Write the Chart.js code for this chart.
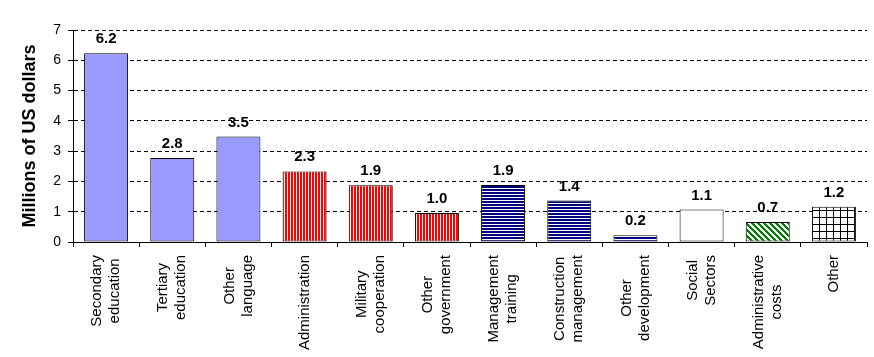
<!DOCTYPE html>
<html><head><meta charset="utf-8">
<script src="https://cdn.jsdelivr.net/npm/chart.js@4/dist/chart.umd.min.js"></script>
<style>html,body{margin:0;padding:0;background:#fff;}</style>
</head><body>
<canvas id="c" width="874" height="357"></canvas>
<script>
// ---------- DATA ----------
const categories = [
  ["Secondary","education"],["Tertiary","education"],["Other","language"],
  ["Administration"],["Military","cooperation"],["Other","government"],
  ["Management","training"],["Construction","management"],["Other","development"],
  ["Social","Sectors"],["Administrative","costs"],["Other"]
];
const values = [6.23, 2.77, 3.48, 2.33, 1.87, 0.96, 1.88, 1.37, 0.22, 1.07, 0.66, 1.16];
const yTicks = [0, 1, 2, 3, 4, 5, 6, 7];
const yTitle = "Millions of US dollars";

// ---------- STYLE ----------
const FONT = '"Liberation Sans", Arial, sans-serif';
function makePattern(w, h, paint) {
  const cv = document.createElement('canvas');
  cv.width = w; cv.height = h;
  const g = cv.getContext('2d');
  g.fillStyle = '#fff'; g.fillRect(0, 0, w, h);
  paint(g, w, h);
  return document.getElementById('c').getContext('2d').createPattern(cv, 'repeat');
}
const blueFill = '#9999FF';
const redV = makePattern(3, 1, g => { g.fillStyle = '#FF0000'; g.fillRect(0, 0, 2, 1); });
const navyH = makePattern(1, 3, g => { g.fillStyle = '#000080'; g.fillRect(0, 0, 1, 2); });
const greenD = makePattern(6, 6, g => {
  g.fillStyle = '#008000';
  for (let y = 0; y < 6; y++) for (let x = 0; x < 6; x++) {
    if (((x - y) % 6 + 6) % 6 < 3) g.fillRect(x, y, 1, 1);
  }
});
const gridFill = makePattern(7, 7, g => { g.fillStyle = '#000'; g.fillRect(0, 0, 7, 1); g.fillRect(0, 0, 1, 7); });
const fills = [blueFill, blueFill, blueFill, redV, redV, redV, navyH, navyH, navyH, '#FFFFFF', greenD, gridFill];

const valueLabels = {
  id: 'valueLabels',
  afterDatasetsDraw(chart) {
    const ctx = chart.ctx, meta = chart.getDatasetMeta(0);
    ctx.save();
    ctx.font = 'bold 15px ' + FONT;
    ctx.fillStyle = '#000'; ctx.textAlign = 'center'; ctx.textBaseline = 'alphabetic';
    meta.data.forEach((bar, i) => ctx.fillText(values[i].toFixed(1), bar.x, bar.y - 10));
    ctx.restore();
  }
};
const catLabels = {
  id: 'catLabels',
  afterDraw(chart) {
    const ctx = chart.ctx, xs = chart.scales.x;
    ctx.save();
    ctx.font = '15px ' + FONT;
    ctx.fillStyle = '#000'; ctx.textAlign = 'center'; ctx.textBaseline = 'middle';
    const lh = 18;
    categories.forEach((lines, i) => {
      const cx = xs.getPixelForValue(i);
      const top = xs.top + 13;
      const maxW = Math.max(...lines.map(l => ctx.measureText(l).width));
      ctx.save();
      ctx.translate(cx, top);
      ctx.rotate(-Math.PI / 2);
      lines.forEach((l, k) => ctx.fillText(l, -maxW / 2, (k - (lines.length - 1) / 2) * lh));
      ctx.restore();
    });
    ctx.restore();
  }
};

new Chart(document.getElementById('c'), {
  type: 'bar',
  data: {
    labels: categories,
    datasets: [{
      data: values,
      backgroundColor: fills,
      borderColor: '#000',
      borderWidth: 1,
      borderSkipped: false,
      barPercentage: 0.665,
      categoryPercentage: 1
    }]
  },
  options: {
    responsive: false,
    animation: false,
    devicePixelRatio: 1,
    layout: { padding: { top: 30, right: 7, left: 0, bottom: 0 } },
    plugins: { legend: { display: false }, tooltip: { enabled: false } },
    scales: {
      x: {
        offset: true,
        grid: { display: true, offset: true, drawOnChartArea: false, drawTicks: true, tickLength: 5, color: '#000', tickColor: '#000' },
        border: { display: true, color: '#000', width: 1 },
        ticks: { display: false },
        afterFit: s => { s.height = 115; }
      },
      y: {
        min: 0, max: 7,
        afterBuildTicks: s => { s.ticks = yTicks.map(v => ({ value: v })); },
        ticks: { color: '#000', font: { family: FONT, size: 14 }, padding: 7, callback: v => String(v) },
        grid: { color: '#000', drawTicks: true, tickLength: 5, tickColor: '#000', tickBorderDash: [] },
        border: { display: true, color: '#000', width: 1, dash: [4, 3] },
        title: { display: true, text: yTitle, color: '#000', font: { family: FONT, size: 18, weight: 'bold' }, padding: { top: 19, bottom: 0 } },
        afterFit: s => { s.width = 73; }
      }
    }
  },
  plugins: [valueLabels, catLabels]
});
</script>
</body></html>
